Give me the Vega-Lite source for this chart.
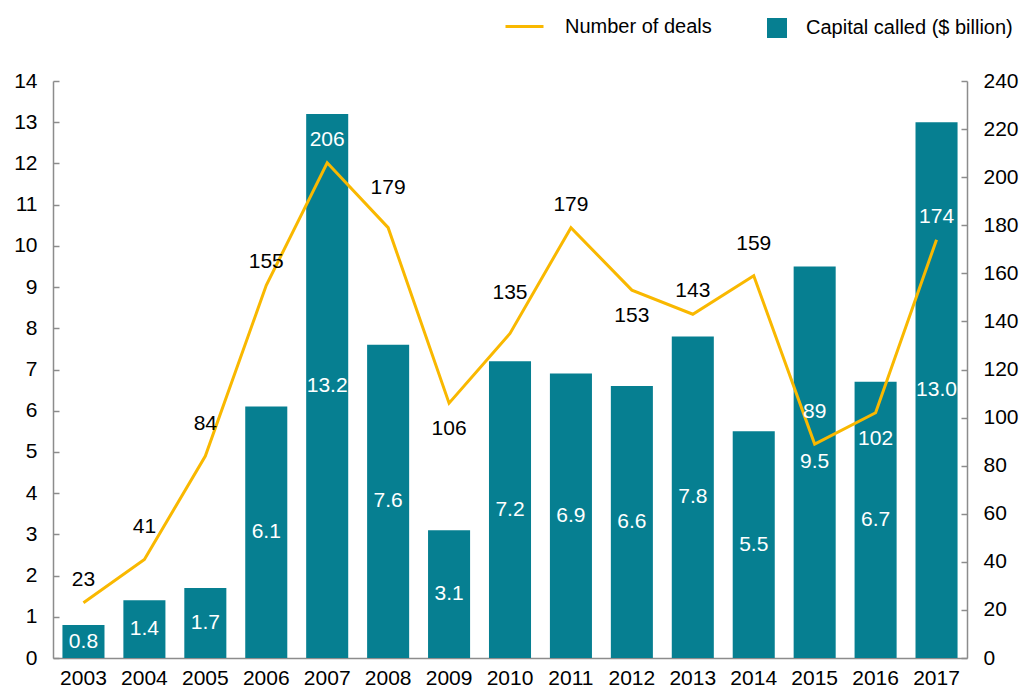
{
  "$schema": "https://vega.github.io/schema/vega-lite/v6.json",
  "width": 914,
  "height": 577,
  "autosize": "none",
  "padding": {"left": 53, "top": 81, "right": 57, "bottom": 33},
  "config": {
    "font": "Liberation Sans",
    "view": {"stroke": null},
    "axis": {"grid": false, "labelColor": "#000000", "labelFont": "Liberation Sans", "labelFontSize": 21, "domainColor": "#8c8c8c", "domainWidth": 1.5, "tickColor": "#8c8c8c", "tickWidth": 1.5, "title": null}
  },
  "data": {
    "values": [
      {"year": "2003", "capital": 0.8, "deals": 23},
      {"year": "2004", "capital": 1.4, "deals": 41},
      {"year": "2005", "capital": 1.7, "deals": 84},
      {"year": "2006", "capital": 6.1, "deals": 155},
      {"year": "2007", "capital": 13.2, "deals": 206},
      {"year": "2008", "capital": 7.6, "deals": 179},
      {"year": "2009", "capital": 3.1, "deals": 106},
      {"year": "2010", "capital": 7.2, "deals": 135},
      {"year": "2011", "capital": 6.9, "deals": 179},
      {"year": "2012", "capital": 6.6, "deals": 153},
      {"year": "2013", "capital": 7.8, "deals": 143},
      {"year": "2014", "capital": 5.5, "deals": 159},
      {"year": "2015", "capital": 9.5, "deals": 89},
      {"year": "2016", "capital": 6.7, "deals": 102},
      {"year": "2017", "capital": 13.0, "deals": 174}
    ]
  },
  "encoding": {
    "x": {
      "field": "year", "type": "ordinal",
      "scale": {"paddingInner": 0.31, "paddingOuter": 0.155},
      "axis": {"labelAngle": 0, "ticks": false, "labelPadding": 9}
    }
  },
  "layer": [
    {
      "encoding": {
        "y": {"field": "capital", "type": "quantitative", "scale": {"domain": [0, 14], "nice": false},
              "axis": {"values": [0,1,2,3,4,5,6,7,8,9,10,11,12,13,14], "tickSize": -6, "labelPadding": 22}}
      },
      "layer": [
        {
          "mark": {"type": "bar"},
          "encoding": {
            "fill": {"datum": "Capital called ($ billion)", "type": "nominal",
                     "scale": {"domain": ["Capital called ($ billion)"], "range": ["#067F91"]},
                     "legend": {"orient": "none", "legendX": 714, "legendY": -63, "title": null, "symbolType": "square", "symbolSize": 400, "symbolStrokeWidth": 0, "labelFontSize": 20, "labelFont": "Liberation Sans", "labelColor": "#000000", "labelOffset": 19, "labelLimit": 400, "padding": 0}}
          }
        },
        {
          "transform": [{"calculate": "datum.capital / 2", "as": "mid"}],
          "mark": {"type": "text", "color": "#ffffff", "fontSize": 21, "baseline": "middle"},
          "encoding": {
            "y": {"field": "mid", "type": "quantitative"},
            "text": {"field": "capital", "type": "quantitative", "format": ".1f"}
          }
        }
      ]
    },
    {
      "encoding": {
        "y": {"field": "deals", "type": "quantitative", "scale": {"domain": [0, 240], "nice": false},
              "axis": {"orient": "right", "values": [0,20,40,60,80,100,120,140,160,180,200,220,240], "tickSize": -6, "labelPadding": 22}}
      },
      "layer": [
        {
          "mark": {"type": "line", "strokeWidth": 3},
          "encoding": {
            "stroke": {"datum": "Number of deals", "type": "nominal",
                       "scale": {"domain": ["Number of deals"], "range": ["#F9B800"]},
                       "legend": {"orient": "none", "legendX": 451, "legendY": -75, "title": null, "symbolType": "stroke", "symbolSize": 1444, "symbolStrokeWidth": 3, "labelFontSize": 20, "labelFont": "Liberation Sans", "labelColor": "#000000", "labelOffset": 20, "labelLimit": 400, "padding": 0}}
          }
        },
        {
          "transform": [{"filter": "indexof(['2003','2006','2007','2011','2013','2017'], datum.year) >= 0"}],
          "mark": {"type": "text", "fontSize": 21, "baseline": "middle", "dy": -23},
          "encoding": {
            "text": {"field": "deals", "type": "quantitative"},
            "color": {"condition": {"test": "indexof(['2007','2017'], datum.year) >= 0", "value": "#ffffff"}, "value": "#000000"}
          }
        },
        {
          "transform": [{"filter": "indexof(['2004','2005','2014','2015'], datum.year) >= 0"}],
          "mark": {"type": "text", "fontSize": 21, "baseline": "middle", "dy": -32},
          "encoding": {
            "text": {"field": "deals", "type": "quantitative"},
            "color": {"condition": {"test": "datum.year == '2015'", "value": "#ffffff"}, "value": "#000000"}
          }
        },
        {
          "transform": [{"filter": "indexof(['2008','2010'], datum.year) >= 0"}],
          "mark": {"type": "text", "fontSize": 21, "baseline": "middle", "dy": -40, "color": "#000000"},
          "encoding": {
            "text": {"field": "deals", "type": "quantitative"}
          }
        },
        {
          "transform": [{"filter": "indexof(['2009','2012','2016'], datum.year) >= 0"}],
          "mark": {"type": "text", "fontSize": 21, "baseline": "middle", "dy": 26},
          "encoding": {
            "text": {"field": "deals", "type": "quantitative"},
            "color": {"condition": {"test": "datum.year == '2016'", "value": "#ffffff"}, "value": "#000000"}
          }
        }
      ]
    }
  ],
  "resolve": {"scale": {"y": "independent"}}
}
